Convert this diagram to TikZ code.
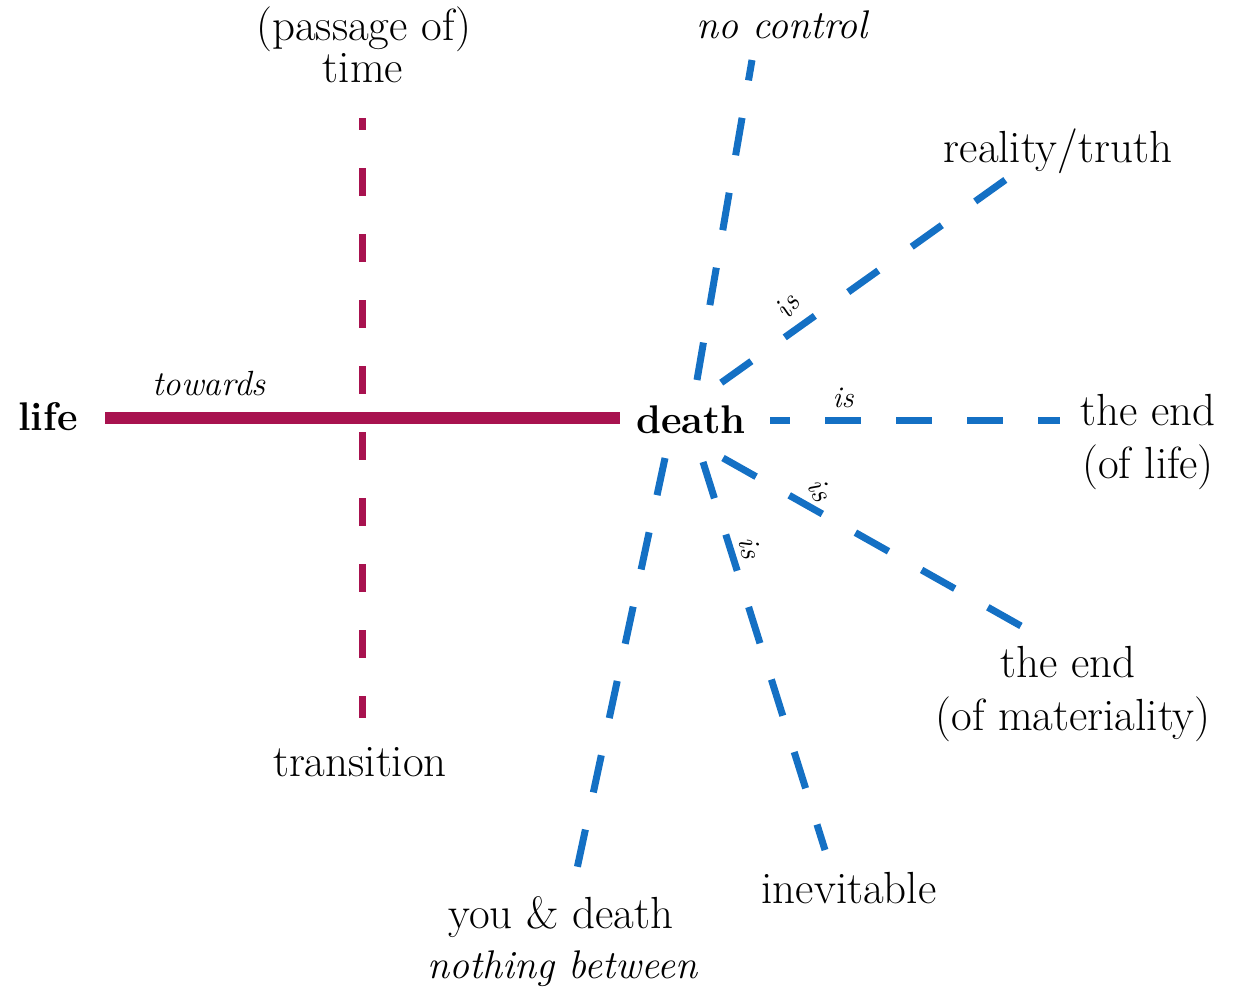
\documentclass[tikz,border=0pt]{standalone}
\definecolor{mag}{HTML}{A8124F}
\definecolor{blu}{HTML}{1470C4}
\begin{document}
\begin{tikzpicture}[x=1pt,y=-1pt,
  lbl/.style={font=\fontsize{45}{50}\selectfont, anchor=base, inner sep=0pt},
  blbl/.style={font=\fontsize{40}{46}\selectfont\bfseries, anchor=base, inner sep=0pt},
  ilbl/.style={font=\fontsize{40}{44}\selectfont\itshape, anchor=base, inner sep=0pt},
  slbl/.style={font=\fontsize{35}{40}\selectfont\itshape, anchor=base, inner sep=0pt},
  islbl/.style={font=\fontsize{30}{34}\selectfont\itshape, inner sep=0pt},
  bdash/.style={draw=blu, line width=7pt, dash pattern=on 38pt off 38pt},
  mdash/.style={draw=mag, line width=7pt, dash pattern=on 28pt off 38pt},
  msolid/.style={draw=mag, line width=12pt}]
\useasboundingbox (0,0) rectangle (1234,991);

% labels
\node[blbl] (life) at (48,430) {life};
\node[blbl] (death) at (691,433) {death};
\node[slbl] (towards) at (209,395) {towards};
\node[lbl] (passage) at (364,40) {(passage of)};
\node[lbl] (time) at (363,82) {time};
\node[lbl] (transition) at (360,776) {transition};
\node[ilbl] (nocontrol) at (782,38) {no control};
\node[lbl] (reality) at (1058,162) {reality/truth};
\node[lbl] (endlife1) at (1148,425) {the end};
\node[lbl] (endlife2) at (1148,478) {(of life)};
\node[lbl] (endmat1) at (1068,677) {the end};
\node[lbl] (endmat2) at (1073,730) {(of materiality)};
\node[lbl] (inevitable) at (849,903) {inevitable};
\node[lbl] (youdeath) at (561,928) {you \& death};
\node[ilbl] (nothing) at (562,978) {nothing between};

% connector end points
\coordinate (hL) at (105,418);
\coordinate (hR) at (620,418);
\coordinate (vT) at (362,118);
\coordinate (vB) at (362,718);
\coordinate (ncA) at (697,380);
\coordinate (ncB) at (752,60);
\coordinate (reA) at (718,385);
\coordinate (reB) at (1008,178);
\coordinate (elA) at (770,420);
\coordinate (elB) at (1060,420);
\coordinate (emA) at (723,458);
\coordinate (emB) at (1037,635);
\coordinate (inA) at (703,462);
\coordinate (inB) at (825,850);
\coordinate (ydA) at (665,458);
\coordinate (ydB) at (575,878);

% magenta axes
\draw[msolid] (hL) -- (hR);
\draw[mdash, dash phase=16pt] (vT) -- (vB);

% blue rays
\draw[bdash] (ncA) -- (ncB);
\draw[bdash, dash pattern=on 37pt off 41pt, dash phase=74pt] (reA) -- (reB);
\draw[bdash, dash pattern=on 36pt off 35pt, dash phase=16pt] (elA) -- (elB);
\draw[bdash] (emA) -- (emB);
\draw[bdash] (inA) -- (inB);
\draw[bdash] (ydA) -- (ydB);

% "is" labels
\node[islbl, rotate=55] (is1) at (787,306) {is};
\node[font=\fontsize{30}{34}\selectfont\itshape, anchor=base, inner sep=0pt] (is2) at (843,407) {is};
\node[islbl, rotate=-60] (is3) at (820,490) {is};
\node[islbl, rotate=-78] (is4) at (750,548) {is};
\end{tikzpicture}
\end{document}
